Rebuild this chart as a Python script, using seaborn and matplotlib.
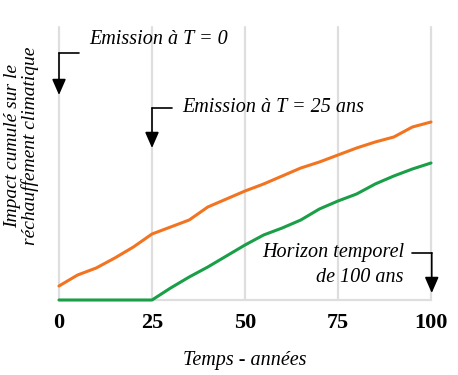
import pandas as pd
import matplotlib.pyplot as plt
import seaborn as sns

# --- DATA ---
years = [0, 5, 10, 15, 20, 25, 30, 35, 40, 45, 50, 55, 60, 65, 70, 75, 80, 85, 90, 95, 100]
impact_t0 = [14, 25, 32, 42, 53, 66, 73, 80, 93, 101, 109, 116, 124, 132, 138, 145, 152, 158, 163, 173, 178]
impact_t25 = [0, 0, 0, 0, 0, 0, 12, 23, 33, 44, 55, 65, 72, 80, 91, 99, 106, 116, 124, 131, 137]
xticks = [0, 25, 50, 75, 100]

ORANGE = "#F27420"
GREEN = "#1A9F48"
GRID = "#DEDEDE"
FONT = "Liberation Serif"
TXT = 14.5

df = pd.concat([
    pd.DataFrame({"Temps": years, "Impact": impact_t0, "Emission": "T0"}),
    pd.DataFrame({"Temps": years, "Impact": impact_t25, "Emission": "T25"}),
])

sns.set_theme(style="white")
plt.rcParams["font.family"] = [FONT, "DejaVu Serif"]
plt.rcParams["text.color"] = "black"
plt.rcParams["axes.labelcolor"] = "black"
plt.rcParams["xtick.color"] = "black"

fig = plt.figure(figsize=(4.58, 3.75), dpi=100)
ax = fig.add_axes([59 / 458, 1 - 300 / 375, (431 - 59) / 458, (300 - 27) / 375])

sns.lineplot(data=df, x="Temps", y="Impact", hue="Emission",
             palette={"T0": ORANGE, "T25": GREEN}, linewidth=2.2,
             legend=False, ax=ax, clip_on=False)

ax.set_xlim(0, 100)
ax.set_ylim(0, 273)
ax.set_xticks(xticks)
ax.set_xticklabels([str(t) for t in xticks], fontsize=16, fontweight="bold",
                   fontfamily=FONT)
ax.set_yticks([])
ax.tick_params(axis="x", length=0, pad=9)
for t in xticks:
    ax.axvline(t, color=GRID, lw=1.6, zorder=0, clip_on=False)
for s in ["top", "left", "right"]:
    ax.spines[s].set_visible(False)
ax.spines["bottom"].set_color(GRID)
ax.spines["bottom"].set_linewidth(1.6)
ax.spines["bottom"].set_zorder(0)

ax.set_xlabel("Temps - années", fontsize=TXT, fontstyle="italic", labelpad=13)
ax.set_ylabel("")
fig.text(0.047, 0.61, "Impact cumulé sur le\nréchauffement climatique",
         rotation=90, ha="center", va="center", fontsize=14,
         fontstyle="italic", linespacing=0.95)

arrow_kw = dict(arrowstyle="-|>,head_length=0.8,head_width=0.35", color="black",
                lw=1.2, shrinkA=0, shrinkB=0)


def bent_arrow(x0, y0, x1, y1, y_tip):
    # horizontal stroke then down to an arrow head
    ax.plot([x0, x1], [y0, y0], color="black", lw=1.2, clip_on=False)
    ax.annotate("", xy=(x1, y_tip), xytext=(x1, y0), arrowprops=arrow_kw,
                annotation_clip=False)


bent_arrow(5.4, 247, 0, 247, 205)
ax.text(8.2, 261, "Emission à T = 0", fontsize=TXT, fontstyle="italic",
        va="center", ha="left")

bent_arrow(30.4, 192, 25, 192, 152)
ax.text(33.0, 192, "Emission à T = 25 ans", fontsize=TXT, fontstyle="italic",
        va="center", ha="left")

bent_arrow(94.9, 47, 100.2, 47, 7)
ax.text(92.7, 47, "Horizon temporel", fontsize=TXT, fontstyle="italic",
        va="center", ha="right")
ax.text(92.7, 22, "de 100 ans", fontsize=TXT, fontstyle="italic",
        va="center", ha="right")

plt.savefig("out.png", dpi=100)
